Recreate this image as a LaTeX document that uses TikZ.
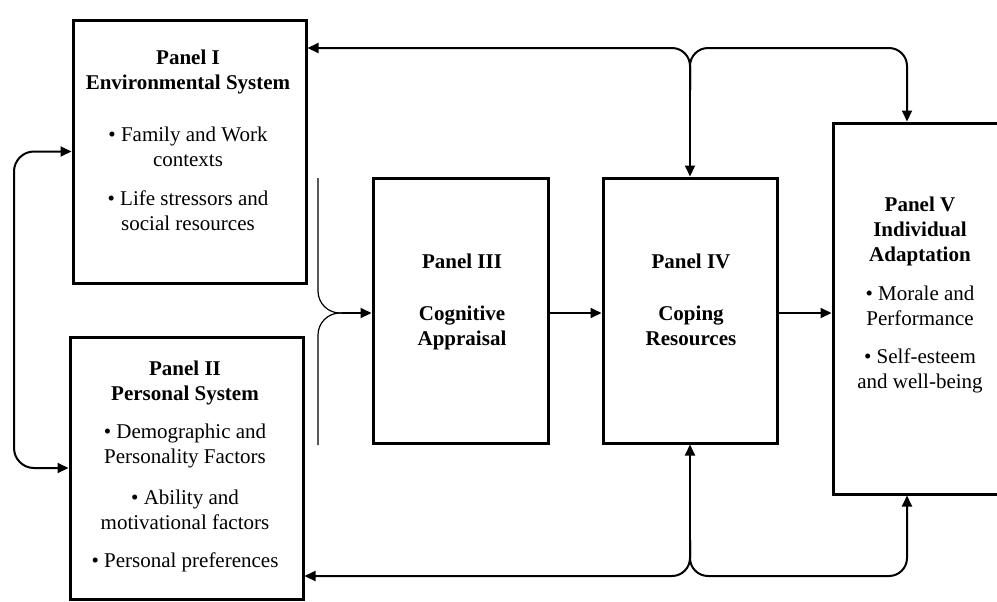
\documentclass[tikz,border=0pt]{standalone}
\usepackage{fontspec}
\setmainfont{Liberation Serif}
\usetikzlibrary{positioning,calc,arrows.meta}
\tikzset{>={Triangle[length=5.5pt,width=5pt]}}

\begin{document}
\begin{tikzpicture}[
    x=0.5pt, y=-0.5pt,
    panel/.style={rectangle, draw, line width=1.5pt, inner sep=0pt},
    txt/.style={align=center, font=\fontsize{10.5}{12.5}\selectfont},
    fb/.style={line width=1pt},
    brk/.style={line width=0.6pt}
]
\useasboundingbox (0,0) rectangle (997,601);

\node[panel, minimum width=116.5pt, minimum height=131.5pt] (p1) at (189.5,151.5) {};
\node[panel, minimum width=116.5pt, minimum height=131pt] (p2) at (186.5,468) {};
\node[panel, minimum width=87.5pt, minimum height=132.5pt] (p3) at (460.5,310.5) {};
\node[panel, minimum width=87pt, minimum height=132.5pt] (p4) at (690,310.5) {};
\node[panel, minimum width=86pt, minimum height=185.5pt] (p5) at (919,308.5) {};

\node[txt] (t1) at (188,140) {\textbf{Panel I}\\\textbf{Environmental System}\\[13.5pt]
  \textbullet\ Family and Work\\contexts\\[7pt]
  \textbullet\ Life stressors and\\social resources};
\node[txt] (t2) at (185,466.5) {\textbf{Panel II}\\\textbf{Personal System}\\[6.5pt]
  \textbullet\ Demographic and\\Personality Factors\\[8pt]
  \textbullet\ Ability and\\motivational factors\\[6.5pt]
  \textbullet\ Personal preferences};
\node[txt] (t3) at (462,301.5) {\textbf{Panel III}\\[13.5pt]\textbf{Cognitive}\\\textbf{Appraisal}};
\node[txt] (t4) at (691,300) {\textbf{Panel IV}\\[13.5pt]\textbf{Coping}\\\textbf{Resources}};
\node[txt] (t5) at (920,295) {\textbf{Panel V}\\\textbf{Individual}\\\textbf{Adaptation}\\[7pt]
  \textbullet\ Morale and\\Performance\\[6.5pt]
  \textbullet\ Self-esteem\\and well-being};

\coordinate (top) at (0,48);
\coordinate (bot) at (0,576);
\coordinate (rt) at (907,48);
\coordinate (rb) at (907,576);
\coordinate (jt) at (690,90);
\coordinate (jb) at (690,540);
\coordinate (loop) at (14,310);
\coordinate (bt) at (318,178);
\coordinate (bb) at (318,445);
\coordinate (brj) at (342,313);

\draw[brk, rounded corners=11pt] (bt) |- (brj);
\draw[brk, rounded corners=11pt] (bb) |- (brj);
\draw[fb, ->] (brj) -- (brj -| p3.west);
\draw[fb, ->] (p3.east |- brj) -- (p4.west |- brj);
\draw[fb, ->] (p4.east |- brj) -- (p5.west |- brj);

\draw[fb, ->, rounded corners=9pt] (jt) |- (p1.east |- top);
\draw[fb, ->, rounded corners=9pt] (jt) |- (rt) -- (rt |- p5.north);
\draw[fb, ->] (jt) -- (p4.north);

\draw[fb, ->, rounded corners=9pt] (jb) |- (p2.east |- bot);
\draw[fb, ->, rounded corners=9pt] (jb) |- (rb) -- (rb |- p5.south);
\draw[fb, ->] (jb) -- (p4.south);

\draw[fb, <->, rounded corners=10pt] (p1.west) -| (loop) |- (p2.west);
\end{tikzpicture}
\end{document}
